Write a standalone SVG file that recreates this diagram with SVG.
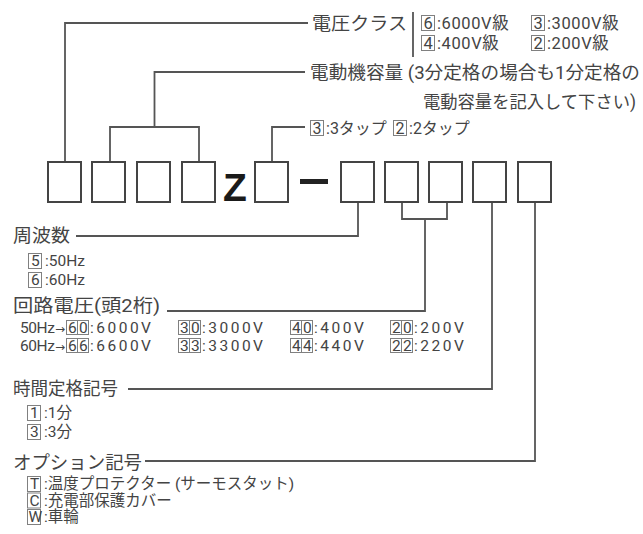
<svg xmlns="http://www.w3.org/2000/svg" width="643" height="534" viewBox="0 0 643 534">
<style>
text{font-family:Roboto,"Noto Sans CJK JP",sans-serif;fill:#444}
.lg{font-size:18.5px}
.sm{font-size:15.5px}
.md{font-size:16.5px}
.ar{font-family:"DejaVu Sans",sans-serif;font-size:12px}
.bn{fill:none;stroke:#444;stroke-width:2}
.bx{fill:none;stroke:#808080;stroke-width:1}
.ln{fill:none;stroke:#555;stroke-width:1.8}
</style>
<rect width="643" height="534" fill="#fff"/>
<g id="connectors">
<path class="ln" d="M65 162V23H308"/>
<path class="ln" d="M110 162V127H199V162M154.5 127V72H305"/>
<path class="ln" d="M272 162V127H305"/>
<path class="ln" d="M358 201V236H76"/>
<path class="ln" d="M402 201V219H447V201M425 219V311H167"/>
<path class="ln" d="M492 201V389H128"/>
<path class="ln" d="M535 201V461H145"/>
<path class="ln" d="M413 12V57"/>
</g>
<g id="code">
<rect class="bn" x="48" y="162" width="33" height="40"/>
<rect class="bn" x="92" y="162" width="33" height="40"/>
<rect class="bn" x="137" y="162" width="33" height="40"/>
<rect class="bn" x="182" y="162" width="33" height="40"/>
<text x="223" y="201" style="font-family:'Liberation Sans',sans-serif;font-weight:bold;font-size:39px;fill:#1a1a1a">Z</text>
<rect class="bn" x="255" y="162" width="33" height="40"/>
<rect x="300" y="179" width="28" height="5" fill="#222"/>
<rect class="bn" x="341" y="162" width="33" height="40"/>
<rect class="bn" x="385" y="162" width="33" height="40"/>
<rect class="bn" x="429" y="162" width="33" height="40"/>
<rect class="bn" x="473" y="162" width="33" height="40"/>
<rect class="bn" x="518" y="162" width="33" height="40"/>
</g>
<g id="voltage-class">
<text class="lg" x="312" y="29.5" textLength="95" lengthAdjust="spacingAndGlyphs">電圧クラス</text>
<rect class="bx" x="421.5" y="15.5" width="13" height="15"/>
<rect class="bx" x="531.5" y="15.5" width="13" height="15"/>
<rect class="bx" x="421.5" y="35.5" width="13" height="15"/>
<rect class="bx" x="531.5" y="35.5" width="13" height="15"/>
<text class="md" y="28.5"><tspan x="423.5">6</tspan><tspan x="437" letter-spacing="0.6">:6000V級</tspan><tspan x="533.5">3</tspan><tspan x="547" letter-spacing="0.6">:3000V級</tspan></text>
<text class="md" y="48.5"><tspan x="423.5">4</tspan><tspan x="437" letter-spacing="0.6">:400V級</tspan><tspan x="533.5">2</tspan><tspan x="547" letter-spacing="0.6">:200V級</tspan></text>
</g>
<g id="capacity">
<text class="lg" x="310" y="78.5" textLength="330" lengthAdjust="spacingAndGlyphs">電動機容量 (3分定格の場合も1分定格の</text>
<text x="423" y="107.5" style="font-size:17.5px" textLength="213" lengthAdjust="spacingAndGlyphs">電動容量を記入して下さい)</text>
</g>
<g id="tap">
<rect class="bx" x="310.5" y="120.5" width="13" height="15"/>
<rect class="bx" x="393.5" y="120.5" width="13" height="15"/>
<text style="font-size:16px" y="133.5"><tspan x="312.5">3</tspan><tspan x="326">:3タップ</tspan><tspan x="395.5">2</tspan><tspan x="409">:2タップ</tspan></text>
</g>
<g id="frequency">
<text class="lg" x="13" y="241.5" textLength="57" lengthAdjust="spacingAndGlyphs">周波数</text>
<rect class="bx" x="28.5" y="253.5" width="13" height="15"/>
<rect class="bx" x="28.5" y="272.5" width="13" height="15"/>
<text class="sm" y="266"><tspan x="31">5</tspan><tspan x="45">:50Hz</tspan></text>
<text class="sm" y="285"><tspan x="31">6</tspan><tspan x="45">:60Hz</tspan></text>
</g>
<g id="circuit-voltage">
<text class="lg" x="13" y="312" textLength="147" lengthAdjust="spacingAndGlyphs">回路電圧(頭2桁)</text>
<g class="bx">
<rect x="66.5" y="320.5" width="11" height="14"/><rect x="77.5" y="320.5" width="11" height="14"/>
<rect x="178.5" y="320.5" width="11" height="14"/><rect x="189.5" y="320.5" width="11" height="14"/>
<rect x="290.5" y="320.5" width="11" height="14"/><rect x="301.5" y="320.5" width="11" height="14"/>
<rect x="390.5" y="320.5" width="11" height="14"/><rect x="401.5" y="320.5" width="11" height="14"/>
<rect x="66.5" y="338.5" width="11" height="14"/><rect x="77.5" y="338.5" width="11" height="14"/>
<rect x="178.5" y="338.5" width="11" height="14"/><rect x="189.5" y="338.5" width="11" height="14"/>
<rect x="290.5" y="338.5" width="11" height="14"/><rect x="301.5" y="338.5" width="11" height="14"/>
<rect x="390.5" y="338.5" width="11" height="14"/><rect x="401.5" y="338.5" width="11" height="14"/>
</g>
<text class="sm" y="333"><tspan x="20" letter-spacing="-0.4">50Hz</tspan><tspan class="ar" x="55">→</tspan><tspan x="68">6</tspan><tspan x="79">0</tspan><tspan x="90" letter-spacing="2.5">:6000V</tspan><tspan x="180">3</tspan><tspan x="191">0</tspan><tspan x="202" letter-spacing="2.5">:3000V</tspan><tspan x="292">4</tspan><tspan x="303">0</tspan><tspan x="314" letter-spacing="2.5">:400V</tspan><tspan x="392">2</tspan><tspan x="403">0</tspan><tspan x="414" letter-spacing="2.5">:200V</tspan></text>
<text class="sm" y="351"><tspan x="20" letter-spacing="-0.4">60Hz</tspan><tspan class="ar" x="55">→</tspan><tspan x="68">6</tspan><tspan x="79">6</tspan><tspan x="90" letter-spacing="2.5">:6600V</tspan><tspan x="180">3</tspan><tspan x="191">3</tspan><tspan x="202" letter-spacing="2.5">:3300V</tspan><tspan x="292">4</tspan><tspan x="303">4</tspan><tspan x="314" letter-spacing="2.5">:440V</tspan><tspan x="392">2</tspan><tspan x="403">2</tspan><tspan x="414" letter-spacing="2.5">:220V</tspan></text>
</g>
<g id="time-rating">
<text class="lg" x="13" y="394.5" textLength="105" lengthAdjust="spacingAndGlyphs">時間定格記号</text>
<rect class="bx" x="27.5" y="405.5" width="13" height="15"/>
<rect class="bx" x="27.5" y="424.5" width="13" height="15"/>
<text class="sm" y="418"><tspan x="30">1</tspan><tspan x="44">:1分</tspan></text>
<text class="sm" y="437"><tspan x="30">3</tspan><tspan x="44">:3分</tspan></text>
</g>
<g id="option">
<text class="lg" x="13" y="468.5" textLength="129" lengthAdjust="spacingAndGlyphs">オプション記号</text>
<rect class="bx" x="27.5" y="476.5" width="13" height="15"/>
<rect class="bx" x="27.5" y="493" width="13" height="15"/>
<rect class="bx" x="27.5" y="509.5" width="13" height="15"/>
<text class="sm" y="489"><tspan x="30">T</tspan><tspan x="44">:温度プロテクター (サーモスタット)</tspan></text>
<text class="sm" y="505.5"><tspan x="29.5">C</tspan><tspan x="44">:充電部保護カバー</tspan></text>
<text class="sm" y="522"><tspan x="28.5">W</tspan><tspan x="44">:車輪</tspan></text>
</g>
</svg>
